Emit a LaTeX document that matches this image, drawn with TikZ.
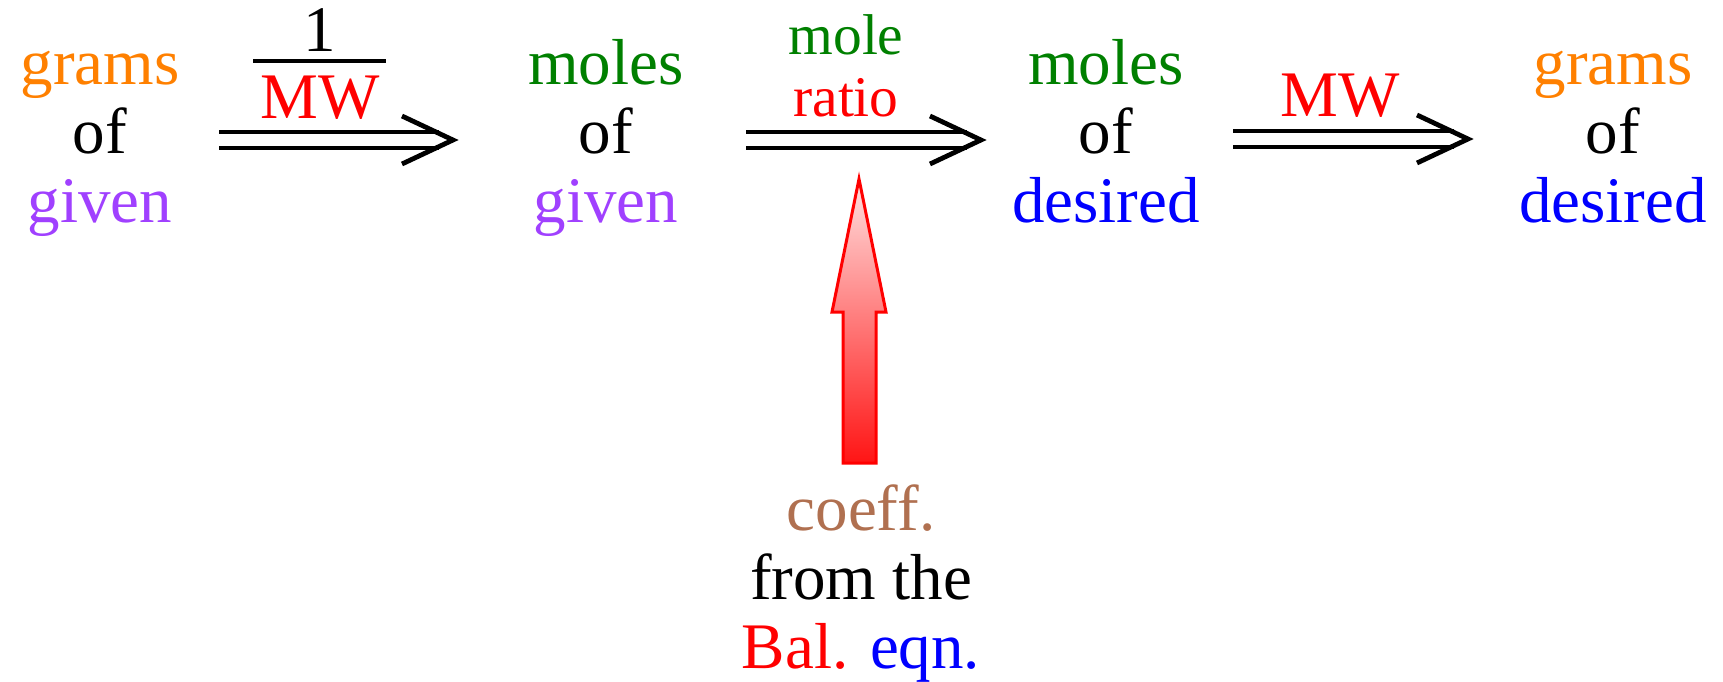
\documentclass[tikz,border=0pt]{standalone}
\usepackage{fontspec}
\setmainfont{Liberation Serif}
\definecolor{cOrange}{RGB}{255,128,0}
\definecolor{cPurple}{RGB}{160,64,255}
\definecolor{cGreen}{RGB}{0,128,0}
\definecolor{cBlue}{RGB}{0,0,255}
\definecolor{cRed}{RGB}{255,0,0}
\definecolor{cBrown}{RGB}{176,112,80}
\newcommand\dblarrow[2]{%
  \draw[arrowline] ([yshift=8pt]#1) -- ([xshift=-14pt,yshift=8pt]#2);
  \draw[arrowline] ([yshift=-8pt]#1) -- ([xshift=-14pt,yshift=-8pt]#2);
  \draw[arrowline,line join=miter] ([xshift=-51pt,yshift=24pt]#2) -- (#2) -- ([xshift=-51pt,yshift=-24pt]#2);
}
\begin{document}
\begin{tikzpicture}[x=1pt,y=-1pt,
  lbl/.style={align=center, anchor=base, inner sep=0pt, font=\fontsize{65}{69}\selectfont},
  smalllbl/.style={align=center, anchor=base, inner sep=0pt, font=\fontsize{57.5}{62}\selectfont},
  arrowline/.style={line width=4.8pt, black},
  barline/.style={line width=4.5pt, black},
  bigarrow/.style={draw=cRed, line width=3pt, line join=miter, top color=cRed!12, bottom color=cRed!92},
  ]
\useasboundingbox (0,0) rectangle (1723,682);
% main nodes (anchor = baseline of the last line)
\node[lbl] (g1) at (100,222) {\textcolor{cOrange}{grams}\\of\\\textcolor{cPurple}{given}};
\node[lbl] (m1) at (606,222) {\textcolor{cGreen}{moles}\\of\\\textcolor{cPurple}{given}};
\node[lbl] (m2) at (1106,222) {\textcolor{cGreen}{moles}\\of\\\textcolor{cBlue}{desired}};
\node[lbl] (g2) at (1613,222) {\textcolor{cOrange}{grams}\\of\\\textcolor{cBlue}{desired}};
% arrow labels
\node[lbl] (one) at (320,52) {1};
\node[lbl] (mwa) at (320,118) {\textcolor{cRed}{MW}};
\coordinate (barl) at (253,61);
\coordinate (barr) at (386,61);
\draw[barline] (barl) -- (barr);
\node[smalllbl] (ratio) at (846,117) {\textcolor{cGreen}{mole}\\\textcolor{cRed}{ratio}};
\node[lbl] (mwb) at (1340,117) {\textcolor{cRed}{MW}};
% double arrows
\coordinate (a1s) at (219,140); \coordinate (a1t) at (453,140);
\coordinate (a2s) at (746,140); \coordinate (a2t) at (981,140);
\coordinate (a3s) at (1233,139); \coordinate (a3t) at (1468,139);
\dblarrow{a1s}{a1t}
\dblarrow{a2s}{a2t}
\dblarrow{a3s}{a3t}
% bottom label and red arrow
\node[lbl] (coef) at (861,668) {\textcolor{cBrown}{coeff.}\\from the\\\textcolor{cRed}{Bal.} \textcolor{cBlue}{eqn.}};
\draw[bigarrow] (859,179) -- (886,312) -- (876,312) -- (876,463) -- (843,463) -- (843,312) -- (832,312) -- cycle;
\end{tikzpicture}
\end{document}
